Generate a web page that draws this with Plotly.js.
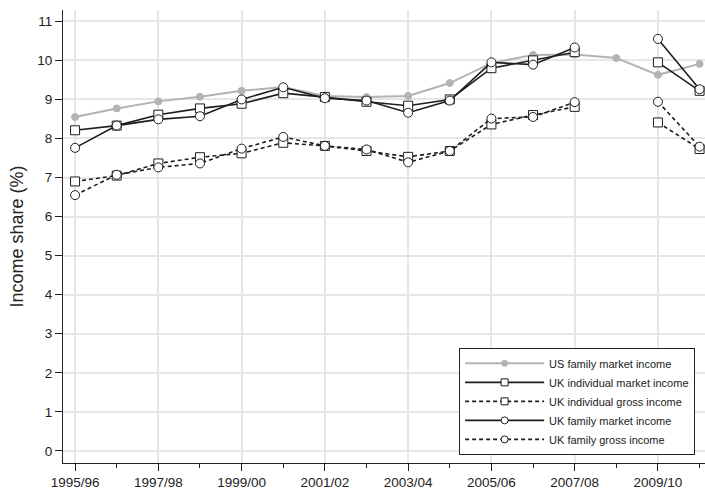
<!DOCTYPE html>
<html>
<head>
<meta charset="utf-8">
<script src="https://cdn.plot.ly/plotly-3.0.1.min.js"></script>
<style>html,body{margin:0;padding:0;background:#fff;}#chart{width:705px;height:489px;}</style>
</head>
<body>
<div id="chart"></div>
<script>
const years = [1995,1996,1997,1998,1999,2000,2001,2002,2003,2004,2005,2006,2007,2008,2009,2010];
const tickYears = [1995,1997,1999,2001,2003,2005,2007,2009];
const tickLabels = ['1995/96','1997/98','1999/00','2001/02','2003/04','2005/06','2007/08','2009/10'];

const usFamilyMarket = [8.55,8.77,8.95,9.07,9.22,9.32,9.09,9.06,9.09,9.42,9.93,10.14,10.15,10.06,9.63,9.91];
const ukIndivMarket  = [8.21,8.33,8.61,8.77,8.89,9.16,9.06,8.94,8.84,9.00,9.80,10.00,10.21,null,9.95,9.22];
const ukIndivGross   = [6.90,7.05,7.36,7.52,7.62,7.89,7.81,7.68,7.53,7.68,8.36,8.60,8.81,null,8.41,7.73];
const ukFamilyMarket = [7.76,8.33,8.49,8.57,9.00,9.31,9.03,8.97,8.66,8.97,9.95,9.89,10.33,null,10.55,9.26];
const ukFamilyGross  = [6.55,7.07,7.26,7.36,7.74,8.04,7.81,7.72,7.39,7.68,8.51,8.55,8.93,null,8.94,7.79];

const seriesNames = ['US family market income','UK individual market income','UK individual gross income','UK family market income','UK family gross income'];
const seriesData = [usFamilyMarket, ukIndivMarket, ukIndivGross, ukFamilyMarket, ukFamilyGross];

const dark = '#1e1e1e';
const styles = [
  {line:{color:'#b3b3b3', width:2}, sym:'circle', fill:'#b3b3b3', size:7, lsize:6},
  {line:{color:dark, width:1.6}, sym:'square', fill:'#fff', size:9, lsize:7},
  {line:{color:dark, width:1.6, dash:'4px,3px'}, sym:'square', fill:'#fff', size:9, lsize:7},
  {line:{color:dark, width:1.6}, sym:'circle', fill:'#fff', size:9, lsize:7},
  {line:{color:dark, width:1.6, dash:'4px,3px'}, sym:'circle', fill:'#fff', size:9, lsize:7}
];

const traces = [];
seriesData.forEach((d, i) => {
  const s = styles[i];
  traces.push({name:seriesNames[i], x:years, y:d, mode:'lines+markers', connectgaps:false,
    showlegend:false, legendgroup:'g'+i,
    line:s.line, marker:{symbol:s.sym, size:s.size, color:s.fill, line:{color: i===0 ? '#b3b3b3' : dark, width:1}}});
});
// legend-only entries with smaller symbols
seriesData.forEach((d, i) => {
  const s = styles[i];
  traces.push({name:seriesNames[i], x:[null], y:[null], mode:'lines+markers', showlegend:true, legendgroup:'g'+i,
    line:s.line, marker:{symbol:s.sym, size:s.lsize, color:s.fill, line:{color: i===0 ? '#b3b3b3' : dark, width:1}}});
});

const layout = {
  width:705, height:489,
  margin:{l:63, r:0, t:10, b:26},
  paper_bgcolor:'#fff', plot_bgcolor:'#fff',
  font:{family:'Liberation Sans, Arial, sans-serif', color:'#222'},
  showlegend:true,
  legend:{x:0.617, y:0.018, xanchor:'left', yanchor:'bottom', bgcolor:'#fff',
          bordercolor:'#222', borderwidth:1, font:{size:11, color:'#222'},
          itemwidth:79, tracegroupgap:0, traceorder:'normal'},
  xaxis:{range:[1994.71, 2010.13], tickmode:'array', tickvals:tickYears, ticktext:tickLabels,
         showgrid:true, gridcolor:'#e6e6e6', gridwidth:1.5, zeroline:false,
         showline:true, linecolor:'#222', linewidth:1,
         ticks:'outside', ticklen:7, tickcolor:'#222', tickfont:{size:13.5, color:'#222'},
         minor:{tickmode:'array', tickvals:years, ticks:'outside', ticklen:4, tickcolor:'#222', showgrid:false}},
  yaxis:{range:[-0.31, 11.29], tickmode:'linear', tick0:0, dtick:1,
         showgrid:true, gridcolor:'#e6e6e6', gridwidth:1.5, zeroline:false,
         showline:true, linecolor:'#222', linewidth:1,
         ticks:'outside', ticklen:7, tickcolor:'#222', tickfont:{size:13.5, color:'#222'},
         title:{text:'Income share (%)', font:{size:18, color:'#222'}, standoff:8}}
};
Plotly.newPlot('chart', traces, layout, {displayModeBar:false});
</script>
</body>
</html>
